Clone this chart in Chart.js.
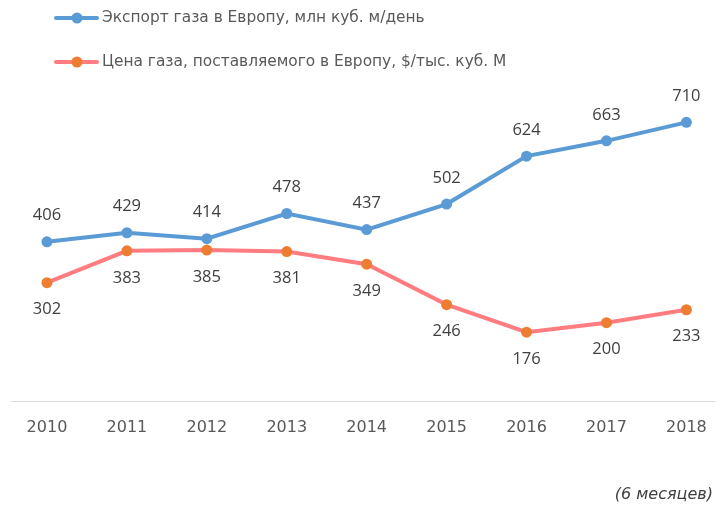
<!DOCTYPE html>
<html>
<head>
<meta charset="utf-8">
<script src="https://cdn.jsdelivr.net/npm/chart.js@4.4.1/dist/chart.umd.min.js"></script>
<style>
  html, body { margin: 0; padding: 0; background: #fff; }
  #wrap { position: relative; width: 724px; height: 508px; }
</style>
</head>
<body>
<div id="wrap"><canvas id="gasChart" width="724" height="508"></canvas></div>
<script>
// data
const years = [2010, 2011, 2012, 2013, 2014, 2015, 2016, 2017, 2018];
const exportVolume = [406, 429, 414, 478, 437, 502, 624, 663, 710];
const gasPrice = [302, 383, 385, 381, 349, 246, 176, 200, 233];
const seriesNames = [
    'Экспорт газа в Европу, млн куб. м/день',
    'Цена газа, поставляемого в Европу, $/тыс. куб. М'
];
const footNote = '(6 месяцев)';

const tickFont = "'DejaVu Sans', sans-serif";
const labelFont = "'Open Sans', sans-serif";

// value labels above / below each point
const valueLabels = {
    id: 'valueLabels',
    afterDatasetsDraw(chart) {
        const ctx = chart.ctx;
        ctx.save();
        ctx.font = '16.5px ' + labelFont;
        ctx.fillStyle = '#404040';
        ctx.textAlign = 'center';
        ctx.textBaseline = 'middle';
        chart.data.datasets.forEach(function(ds, i) {
            const meta = chart.getDatasetMeta(i);
            meta.data.forEach(function(pt, j) {
                ctx.fillText(String(ds.data[j].y), pt.x, pt.y + ds.labelOffset);
            });
        });
        ctx.restore();
    }
};

// legend drawn by hand: line with a dot, two rows, plus the footnote
const lineLegend = {
    id: 'lineLegend',
    afterDraw(chart) {
        const ctx = chart.ctx;
        ctx.save();
        ctx.font = '15.4px ' + tickFont;
        ctx.textBaseline = 'middle';
        chart.data.datasets.forEach(function(ds, i) {
            const y = 18 + i * 44;
            ctx.strokeStyle = ds.borderColor;
            ctx.lineWidth = 4;
            ctx.lineCap = 'round';
            ctx.beginPath();
            ctx.moveTo(56, y);
            ctx.lineTo(97, y);
            ctx.stroke();
            ctx.fillStyle = ds.pointBackgroundColor;
            ctx.beginPath();
            ctx.arc(77, y, 5.5, 0, Math.PI * 2);
            ctx.fill();
            ctx.fillStyle = '#595959';
            ctx.textAlign = 'left';
            ctx.fillText(ds.label, 102, y);
        });
        ctx.font = 'italic 16px ' + tickFont;
        ctx.fillStyle = '#404040';
        ctx.textAlign = 'right';
        ctx.fillText(footNote, 713, 495);
        ctx.restore();
    }
};

const ctx = document.getElementById('gasChart').getContext('2d');

new Chart(ctx, {
    type: 'line',
    data: {
        datasets: [
            {
                label: seriesNames[0],
                data: years.map((y, i) => ({ x: y, y: exportVolume[i] })),
                borderColor: '#5B9BD5',
                backgroundColor: '#5B9BD5',
                pointBackgroundColor: '#5B9BD5',
                pointBorderWidth: 0,
                pointRadius: 5.5,
                borderWidth: 4,
                labelOffset: -26
            },
            {
                label: seriesNames[1],
                data: years.map((y, i) => ({ x: y, y: gasPrice[i] })),
                borderColor: '#FF7C80',
                backgroundColor: '#FF7C80',
                pointBackgroundColor: '#ED7D31',
                pointBorderWidth: 0,
                pointRadius: 5.5,
                borderWidth: 4,
                labelOffset: 27
            }
        ]
    },
    options: {
        responsive: false,
        animation: false,
        clip: false,
        layout: {
            padding: { top: 87, left: 11, right: 6, bottom: 53.5 }
        },
        plugins: {
            legend: { display: false },
            tooltip: { enabled: false }
        },
        scales: {
            x: {
                type: 'linear',
                min: 2009.55,
                max: 2018.35,
                afterBuildTicks: function(axis) {
                    axis.ticks = years.map(v => ({ value: v }));
                },
                ticks: {
                    padding: 17,
                    color: '#595959',
                    font: { family: tickFont, size: 16 },
                    maxRotation: 0,
                    callback: v => String(v)
                },
                grid: { display: false, drawTicks: false },
                border: { display: true, color: '#D9D9D9', width: 1 }
            },
            y: {
                display: false,
                min: 0,
                max: 800
            }
        }
    },
    plugins: [valueLabels, lineLegend]
});
</script>
</body>
</html>
